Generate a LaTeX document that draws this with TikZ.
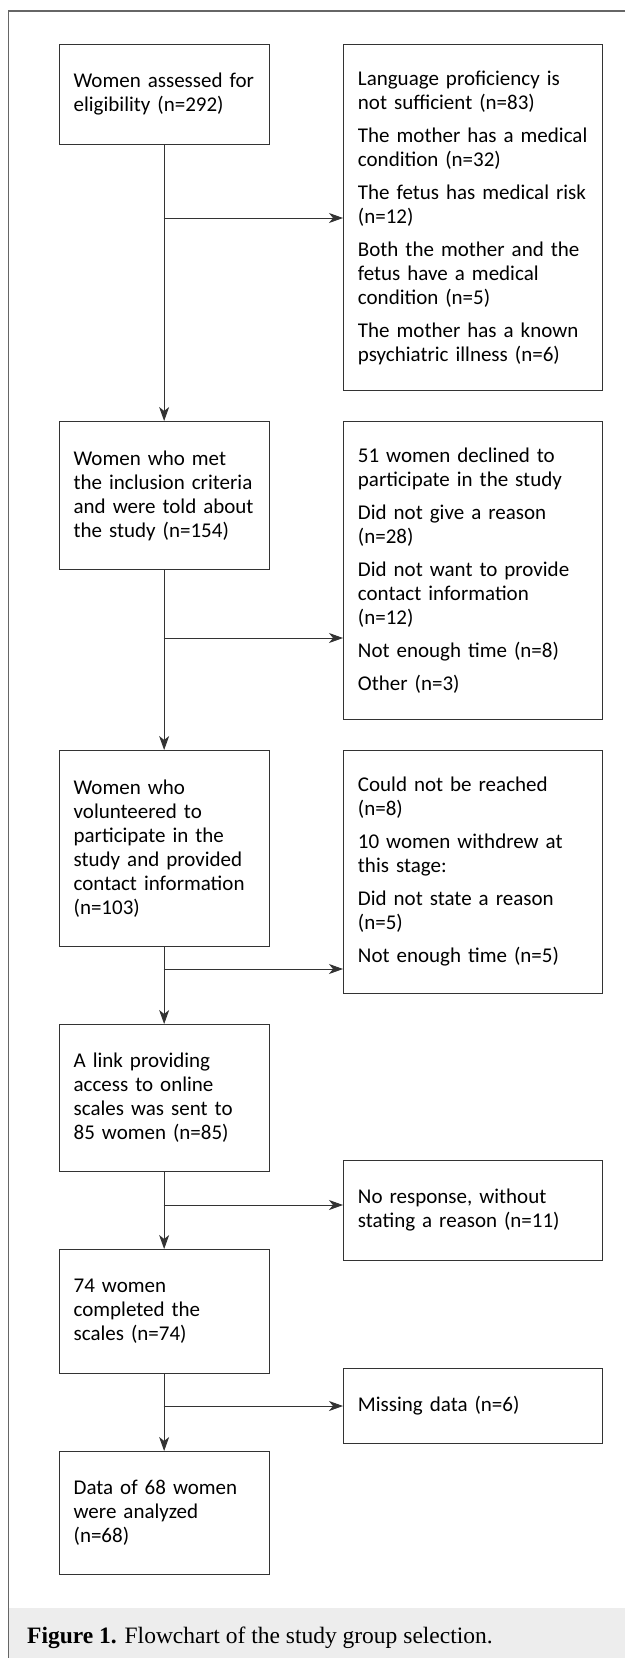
\documentclass[tikz,border=0pt]{standalone}
\usepackage{fontspec}
\usetikzlibrary{arrows.meta}
\newfontfamily\boxfamily{Carlito}
\newfontfamily\capfamily{Liberation Serif}
\newcommand\flowfont{\boxfamily\fontsize{21pt}{24pt}\selectfont\hyphenpenalty=10000}
\definecolor{framegray}{HTML}{666666}
\definecolor{boxline}{HTML}{333333}
\definecolor{capgray}{HTML}{EDEDED}
\tikzset{
  flowbox/.style={draw=boxline, line width=0.9pt, anchor=north west, align=left,
    inner xsep=14.5pt, inner ysep=0pt, font=\flowfont},
  leftbox/.style={flowbox, text width=181pt},
  rightbox/.style={flowbox, text width=229.6pt},
  flowarrow/.style={draw=boxline, line width=0.9pt, -{Stealth[length=14pt,width=10pt,inset=4pt]}}
}
\begin{document}
\begin{tikzpicture}[x=1pt, y=-1pt]
    \useasboundingbox (0,0) rectangle (625,1658);
    % frame and caption band
    \fill[capgray] (9,1608) rectangle (625,1658);
    \draw[framegray, line width=1.2pt] (625,11) -- (8.3,11) -- (8.3,1658);
    \node[anchor=base west, inner sep=0pt, font=\capfamily\fontsize{23.5pt}{26pt}\selectfont] (caption) at (27,1643)
        {\textbf{Figure 1.} Flowchart of the study group selection.};

    % main column
    \node[leftbox, minimum height=100pt] (assessed) at (58.7,44) {Women assessed for\\ eligibility (n=292)};
    \node[leftbox, minimum height=148pt] (met) at (58.7,421) {Women who met\\ the inclusion criteria\\ and were told about\\ the study (n=154)};
    \node[leftbox, minimum height=196pt] (volunteered) at (58.7,750) {Women who\\ volunteered to\\ participate in the\\ study and provided\\ contact information\\ (n=103)};
    \node[leftbox, minimum height=147pt] (sent) at (58.7,1024) {A link providing\\ access to online\\ scales was sent to\\ 85 women (n=85)};
    \node[leftbox, minimum height=124pt] (completed) at (58.7,1249) {74 women\\ completed the\\ scales (n=74)};
    \node[leftbox, minimum height=123pt] (analyzed) at (58.7,1451) {Data of 68 women\\ were analyzed\\ (n=68)};

    % exclusions
    \node[rightbox, minimum height=346pt] (excl1) at (343,44) {Language proficiency is\\ not sufficient (n=83)\\[9pt] The mother has a medical\\ condition (n=32)\\[9pt] The fetus has medical risk\\ (n=12)\\[9pt] Both the mother and the\\ fetus have a medical\\ condition (n=5)\\[9pt] The mother has a known\\ psychiatric illness (n=6)};
    \node[rightbox, minimum height=298pt] (excl2) at (343,421) {51 women declined to\\ participate in the study\\[9pt] Did not give a reason\\ (n=28)\\[9pt] Did not want to provide\\ contact information\\ (n=12)\\[9pt] Not enough time (n=8)\\[9pt] Other (n=3)};
    \node[rightbox, minimum height=243pt] (excl3) at (343,750) {Could not be reached\\ (n=8)\\[9pt] 10 women withdrew at\\ this stage:\\[9pt] Did not state a reason\\ (n=5)\\[9pt] Not enough time (n=5)};
    \node[rightbox, minimum height=100pt] (excl4) at (343,1160) {No response, without\\ stating a reason (n=11)};
    \node[rightbox, minimum height=75pt] (excl5) at (343,1368) {Missing data (n=6)};

    % branch points
    \coordinate (br1) at (163.7,218);
    \coordinate (br2) at (163.7,638);
    \coordinate (br3) at (163.7,969);
    \coordinate (br4) at (163.7,1205);
    \coordinate (br5) at (163.7,1406);

    \draw[flowarrow] (assessed) -- (met);
    \draw[flowarrow] (met) -- (volunteered);
    \draw[flowarrow] (volunteered) -- (sent);
    \draw[flowarrow] (sent) -- (completed);
    \draw[flowarrow] (completed) -- (analyzed);

    \draw[flowarrow] (br1) -- (br1 -| excl1.west);
    \draw[flowarrow] (br2) -- (br2 -| excl2.west);
    \draw[flowarrow] (br3) -- (br3 -| excl3.west);
    \draw[flowarrow] (br4) -- (br4 -| excl4.west);
    \draw[flowarrow] (br5) -- (br5 -| excl5.west);
\end{tikzpicture}
\end{document}
